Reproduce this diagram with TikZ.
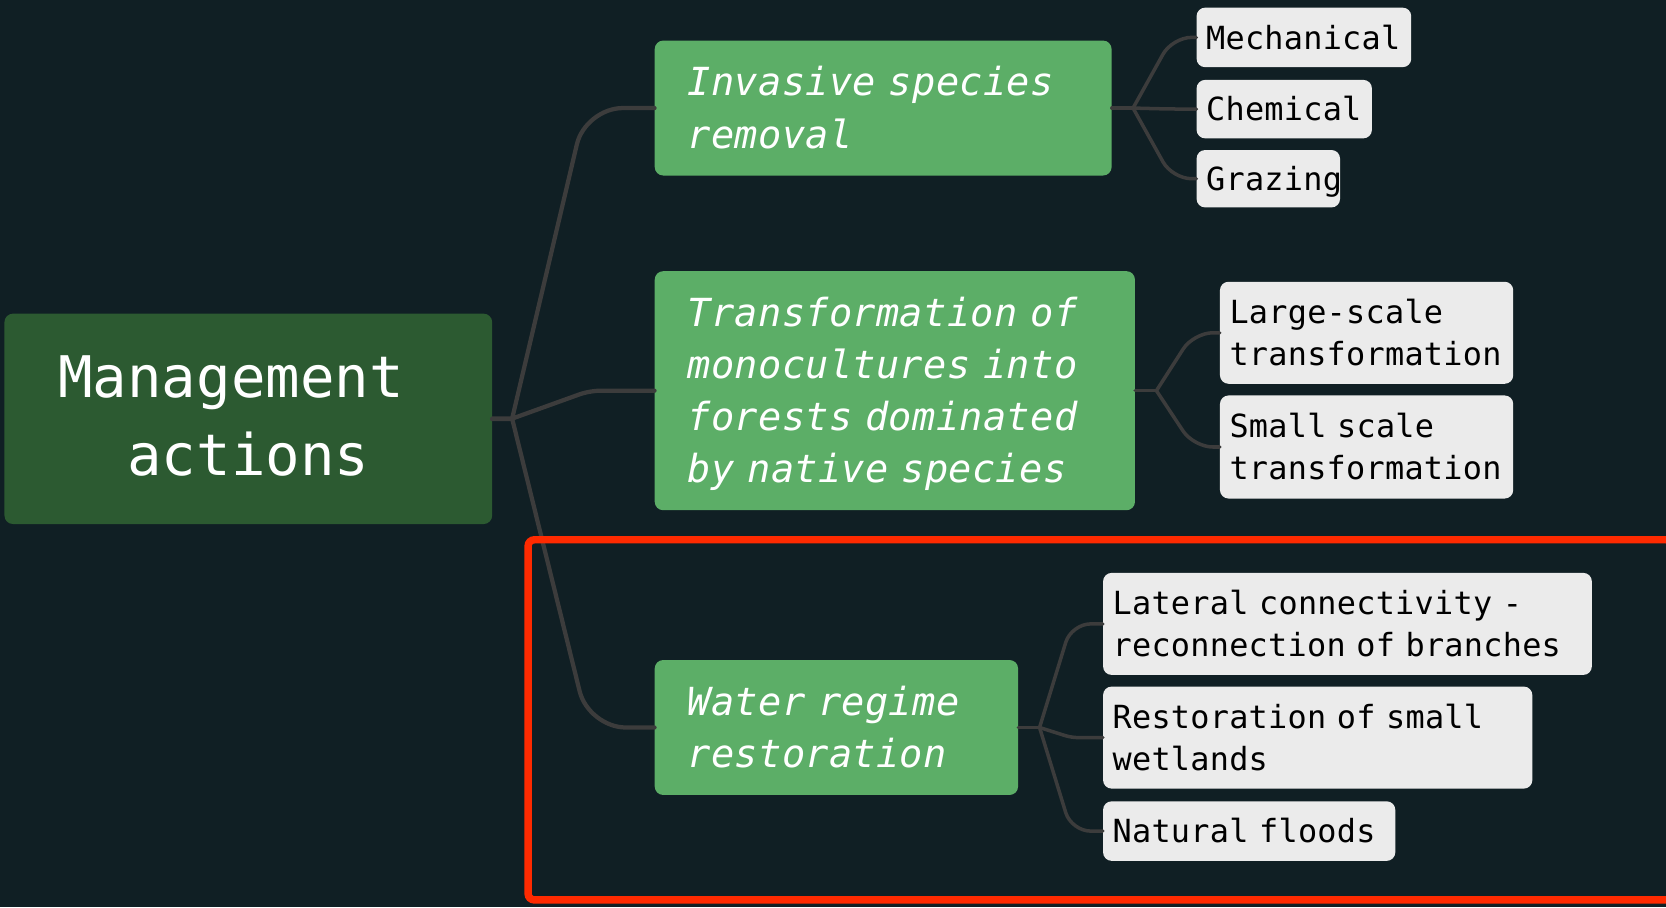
\documentclass[tikz,border=0pt]{standalone}
\usepackage{fontspec}
\newfontfamily\mm{DejaVu Sans Mono}[ItalicFont={DejaVu Sans Mono Oblique}]
\newfontfamily\mmsp{DejaVu Sans Mono}[ItalicFont={DejaVu Sans Mono Oblique},LetterSpace=0.8]
\definecolor{bg}{HTML}{101F24}
\definecolor{rootgreen}{HTML}{2C5A31}
\definecolor{midgreen}{HTML}{5CAE67}
\definecolor{leafgrey}{HTML}{EBEBEB}
\definecolor{conncol}{HTML}{3C3C3C}
\definecolor{markred}{HTML}{FF2A00}
\begin{document}
\begin{tikzpicture}[x=1pt,y=-1pt,
  box/.style={anchor=north west, rounded corners=8pt, inner ysep=0pt,
    execute at end node=\strut, align=left},
  rootbox/.style={box, fill=rootgreen, text=white, align=center, inner xsep=0pt,
    font=\mm\fontsize{54}{73}\selectfont,
    execute at begin node=\rule{0pt}{55pt}},
  midbox/.style={box, fill=midgreen, text=white, inner xsep=31pt,
    font=\mmsp\itshape\fontsize{36.4}{49}\selectfont,
    execute at begin node=\rule{0pt}{41pt}},
  leafbox/.style={box, fill=leafgrey, text=black, inner xsep=9pt,
    font=\mmsp\fontsize{30}{40}\selectfont,
    execute at begin node=\rule{0pt}{34pt}},
  conn/.style={draw=conncol, line width=4pt, line cap=round},
  subconn/.style={draw=conncol, line width=3.3pt, line cap=round, rounded corners=18pt},
  redmark/.style={draw=markred, line width=7pt, rounded corners=6pt}
]
\path[use as bounding box, fill=bg] (0,0) rectangle (1568,854);
\clip (0,0) rectangle (1568,854);

% nodes
\node[rootbox, text width=459pt, minimum height=198pt] (root) at (4,295) {Management\hphantom{M}\\actions};

\node[midbox, text width=368pt, minimum height=127pt] (inv) at (616,38) {Invasive species\\removal};
\node[midbox, text width=390pt, minimum height=225pt] (trans) at (616,255) {Transformation of\\monocultures into\\forests dominated\\by native species};
\node[midbox, text width=280pt, minimum height=127pt] (water) at (616,621) {Water regime\\restoration};

\node[leafbox, text width=184pt, minimum height=56pt] (mech) at (1126,7) {Mechanical};
\node[leafbox, text width=147pt, minimum height=55pt] (chem) at (1126,75) {Chemical};
\node[leafbox, text width=117pt, minimum height=54pt] (graz) at (1126,141) {Grazing};

\node[leafbox, text width=258pt, minimum height=96pt] (large) at (1148,265) {Large-scale\\transformation};
\node[leafbox, text width=258pt, minimum height=97pt] (small) at (1148,372) {Small scale\\transformation};

\node[leafbox, text width=442pt, minimum height=96pt] (lat) at (1038,539) {Lateral connectivity -\\reconnection of branches};
\node[leafbox, text width=386pt, minimum height=96pt] (rest) at (1038,646) {Restoration of small\\wetlands};
\node[leafbox, text width=257pt, minimum height=56pt] (nat) at (1038,754) {Natural floods};

% root connectors
\coordinate (j0) at (482,394);
\coordinate (k1) at (551,101);
\coordinate (k2) at (555,367);
\coordinate (k3) at (554,685);
\draw[conn, line width=4.5pt] (root.east) -- (j0);
\draw[conn, rounded corners=35pt] (j0) -- (k1 |- inv.west) -- (inv.west);
\draw[conn, rounded corners=10pt] (j0) -- (k2 |- trans.west) -- (trans.west);
\draw[conn, rounded corners=35pt] (j0) -- (k3 |- water.west) -- (water.west);

% invasive children
\coordinate (ji) at ([xshift=20pt]inv.east);
\coordinate (ki) at ([xshift=37pt]ji);
\draw[subconn] (inv.east) -- (ji);
\draw[subconn] (ji) -- (ki |- mech.west) -- (mech.west);
\draw[subconn] (ji) -- (ki |- chem.west) -- (chem.west);
\draw[subconn] (ji) -- (ki |- graz.west) -- (graz.west);

% transformation children
\coordinate (jt) at ([xshift=20pt]trans.east);
\coordinate (kt) at ([xshift=35pt]jt);
\draw[subconn] (trans.east) -- (jt);
\draw[subconn] (jt) -- (kt |- large.west) -- (large.west);
\draw[subconn] (jt) -- (kt |- small.west) -- (small.west);

% water children
\coordinate (jw) at ([xshift=20pt]water.east);
\coordinate (kw) at ([xshift=30pt]jw);
\draw[subconn] (water.east) -- (jw);
\draw[subconn] (jw) -- (kw |- lat.west) -- (lat.west);
\draw[subconn, rounded corners=6pt] (jw) -- (kw |- rest.west) -- (rest.west);
\draw[subconn] (jw) -- (kw |- nat.west) -- (nat.west);

% red highlight
\draw[redmark] (497,508) rectangle (1574,847);
\end{tikzpicture}
\end{document}
